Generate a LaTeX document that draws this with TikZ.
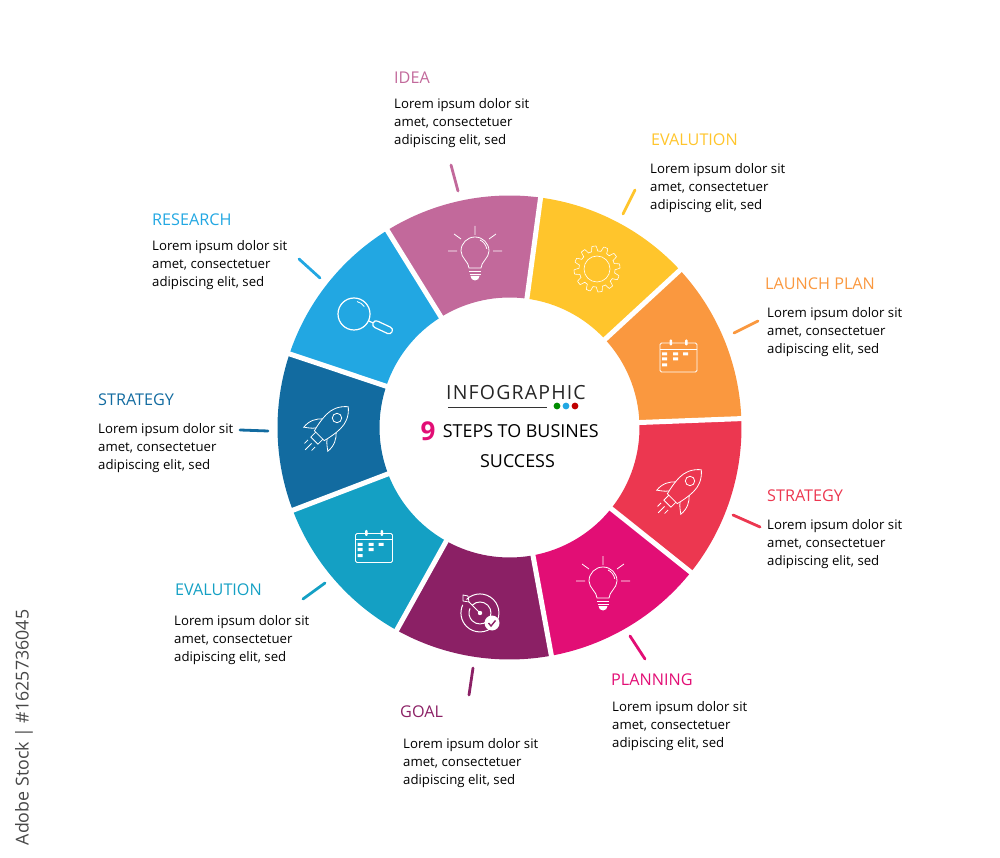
\documentclass[tikz,border=0pt]{standalone}
\usepackage{fontspec}
\setmainfont{Open Sans}
\usetikzlibrary{positioning}

\definecolor{ideacol}{HTML}{C2699B}
\definecolor{evalcol}{HTML}{FFC52C}
\definecolor{launchcol}{HTML}{FA983F}
\definecolor{stratcol}{HTML}{EC3750}
\definecolor{plancol}{HTML}{E20E75}
\definecolor{goalcol}{HTML}{8B2065}
\definecolor{evaltwocol}{HTML}{14A0C4}
\definecolor{strattwocol}{HTML}{126BA0}
\definecolor{researchcol}{HTML}{22A7E2}

\newcommand{\stepblurb}{Lorem ipsum dolor sit\\amet, consectetuer\\adipiscing elit, sed}

\tikzset{
  pics/bulb/.style={code={
    \draw[icon] (-6,-16) .. controls (-6,-10) and (-14,-6) .. (-14,1)
      arc[start angle=180,end angle=0,radius=14]
      .. controls (14,-6) and (6,-10) .. (6,-16) -- cycle;
    \draw[icon] (5,12) arc[start angle=65,end angle=10,radius=12];
    \draw[icon] (-6,-19) -- (6,-19) (-5.5,-22) -- (5.5,-22);
    \fill[white] (-4.5,-24) -- (4.5,-24) arc[start angle=0,end angle=-180,radius=4.5] -- cycle;
    \draw[icon] (0,17) -- (0,26) (18,1) -- (27,1) (-18,1) -- (-27,1)
      (14,13) -- (21,18) (-14,13) -- (-21,18);
  }},
  pics/lens/.style={code={
    \draw[icon,line width=1.2pt] (0,0) circle (16);
    \draw[icon] (3,12.5) arc[start angle=75,end angle=35,radius=13];
    \draw[icon,line width=1.2pt,rounded corners=3.4,rotate=-25] (21,-3.5) rectangle (42,3.5);
    \draw[icon,line width=1.2pt] (14.5,-6.8) -- (19,-8.9);
  }},
  pics/gear/.style={code={
    \draw[icon,line width=0.6pt] plot[domain=0:360,samples=289] (\x:{20.5+2.5*min(1,max(-1,2.2*sin(12*\x)))}) -- cycle;
    \draw[icon,line width=0.6pt] (0,0) circle (13);
  }},
  pics/calendar/.style={code={
    \draw[icon,rounded corners=1.5] (-18.5,-14.5) rectangle (18.5,14.5);
    \draw[icon] (-18.5,8.5) -- (18.5,8.5);
    \fill[white,rounded corners=1] (-9,12) rectangle (-6.5,18) (6.5,12) rectangle (9,18);
    \fill[white] (-16.5,2) rectangle (-11.5,5) (-5.5,2) rectangle (-0.5,5) (4.5,2) rectangle (9.5,5)
      (-16.5,-3) rectangle (-11.5,0) (-5.5,-3) rectangle (-0.5,0) (-16.5,-9) rectangle (-11.5,-6);
  }},
  pics/rocket/.style={code={
    \begin{scope}[rotate=-45]
      \draw[icon] (0,16) .. controls (8,9) and (10,2) .. (10,-5)
        .. controls (10,-12) and (8.5,-19) .. (7,-25) -- (-7,-25)
        .. controls (-8.5,-19) and (-10,-12) .. (-10,-5)
        .. controls (-10,2) and (-8,9) .. (0,16) -- cycle;
      \draw[icon] (0,0) circle (4.7);
      \draw[icon] (-5,-25) -- (-5,-32) -- (5,-32) -- (5,-25);
      \draw[icon] (-9.8,-11) .. controls (-14,-15) and (-18,-21) .. (-17,-30)
        .. controls (-13,-27) and (-10,-25) .. (-8,-22);
      \draw[icon] (9.8,-11) .. controls (14,-15) and (18,-21) .. (17,-30)
        .. controls (13,-27) and (10,-25) .. (8,-22);
      \draw[icon] (-5,-36) -- (-5,-41) (0,-36) -- (0,-45) (5,-36) -- (5,-41);
    \end{scope}
  }},
  pics/target/.style={code={
    \draw[icon,line width=1pt] (-13.5,13.5) arc[start angle=135,end angle=-205,radius=19];
    \draw[icon,line width=1pt] (-7.8,7.8) arc[start angle=135,end angle=-205,radius=11];
    \fill[white] (0,0) circle (2.2);
    \draw[icon] (0,0) -- (-11,11);
    \draw[icon,line join=round] (-11,11) -- (-12,17) -- (-17,18) -- (-17,12) -- cycle;
    \fill[white] (12,-10) circle (7.5);
    \draw[goalcol,line width=1.4pt] (8.5,-10) -- (11,-13) -- (15.5,-7.5);
  }}
}

\begin{document}
\begin{tikzpicture}[x=1pt, y=1pt, icon/.style={draw=white, line width=0.8pt}]
  \tikzstyle{steptitle}=[inner sep=0pt, anchor=west, font=\fontsize{16.2}{18}\selectfont]
  \tikzstyle{stepbody}=[inner sep=0pt, align=left, text=black, font=\fontsize{13.2}{18}\selectfont]
  \tikzstyle{steptick}=[line width=2.8pt, line cap=round]

  \useasboundingbox (0,0) rectangle (1000,857);

  % ring
  \begin{scope}[shift={(509.5,429.5)}]
    \foreach \ang/\nxt/\col in {2.2/42.7/launchcol, 42.7/82.3/evalcol, 82.3/121.8/ideacol, 121.8/161.5/researchcol,
                                161.5/200.9/strattwocol, 200.9/240.9/evaltwocol, 240.9/280.4/goalcol,
                                280.4/321.4/plancol, 321.4/362.2/stratcol}
      \fill[\col] (\ang:232) arc[start angle=\ang, end angle=\nxt, radius=232]
        -- (\nxt:130) arc[start angle=\nxt, end angle=\ang, radius=130] -- cycle;
    \foreach \ang in {2.2,42.7,82.3,121.8,161.5,200.9,240.9,280.4,321.4}
      \draw[white, line width=5pt] (\ang:120) -- (\ang:240);
  \end{scope}

  % icons
  \pic at (475,605) {bulb};
  \pic at (597,588) {gear};
  \pic at (678.5,499.5) {calendar};
  \pic at (690,376) {rocket};
  \pic at (603,275) {bulb};
  \pic at (480,244) {target};
  \pic at (374,309) {calendar};
  \pic at (337,439) {rocket};
  \pic at (354,543) {lens};

  % centre
  \node[inner sep=0pt, font=\fontsize{19.5}{20}\selectfont, text=black!85] (brand) at (516,464) {\addfontfeature{LetterSpace=6}INFOGRAPHIC};
  \draw[black!80, line width=0.9pt] (448,450) -- (547,450);
  \fill[green!55!black] (557,451) circle (3.4);
  \fill[researchcol] (566,451) circle (3.4);
  \fill[red!75!black] (575,451) circle (3.4);
  \node[inner sep=0pt, font=\bfseries\fontsize{26}{28}\selectfont, text=plancol] (nine) at (428,426) {9};
  \node[inner sep=0pt, font=\fontsize{17.9}{20}\selectfont, text=black] (headline) [right=7pt of nine] {STEPS TO BUSINES};
  \node[inner sep=0pt, font=\fontsize{17.9}{20}\selectfont, text=black] (success) at (517.5,396) {SUCCESS};

  % steps
  \node[steptitle, text=ideacol] (idea) at (394,779) {IDEA};
  \node[stepbody] (ideatext) [below right=14pt and 0pt of idea.south west] {\stepblurb};
  \node[steptitle, text=evalcol] (evalone) at (651,717) {EVALUTION};
  \node[stepbody] (evalonetext) [below right=17pt and -1pt of evalone.south west] {\stepblurb};
  \node[steptitle, text=launchcol] (launch) at (765,573) {LAUNCH PLAN};
  \node[stepbody] (launchtext) [below right=17pt and 2pt of launch.south west] {\stepblurb};
  \node[steptitle, text=stratcol] (stratone) at (767,361) {STRATEGY};
  \node[stepbody] (stratonetext) [below right=17pt and 0pt of stratone.south west] {\stepblurb};
  \node[steptitle, text=plancol] (plan) at (611,177) {PLANNING};
  \node[stepbody] (plantext) [below right=15pt and 1pt of plan.south west] {\stepblurb};
  \node[steptitle, text=goalcol] (goal) at (400,145) {GOAL};
  \node[stepbody] (goaltext) [below right=20pt and 3pt of goal.south west] {\stepblurb};
  \node[steptitle, text=evaltwocol] (evaltwo) at (175,267) {EVALUTION};
  \node[stepbody] (evaltwotext) [below right=19pt and -1pt of evaltwo.south west] {\stepblurb};
  \node[steptitle, text=strattwocol] (strattwo) at (98,457) {STRATEGY};
  \node[stepbody] (strattwotext) [below right=17pt and 0pt of strattwo.south west] {\stepblurb};
  \node[steptitle, text=researchcol] (research) at (152,637) {RESEARCH};
  \node[stepbody] (researchtext) [below right=14pt and 0pt of research.south west] {\stepblurb};

  % ticks
  \draw[steptick, ideacol] (451,692) -- (458,666);
  \draw[steptick, evalcol] (635,667) -- (623,643);
  \draw[steptick, launchcol] (758,536) -- (734,524);
  \draw[steptick, stratcol] (733,342) -- (760,330);
  \draw[steptick, plancol] (630,221) -- (645,198);
  \draw[steptick, goalcol] (473,189) -- (469,162);
  \draw[steptick, evaltwocol] (325,274) -- (303,258);
  \draw[steptick, strattwocol] (240,427) -- (268,426);
  \draw[steptick, researchcol] (299,598) -- (320,579);

  \node[inner sep=0pt, rotate=90, text=black!72, font=\fontsize{17.8}{20}\selectfont] (stamp) at (24,129.5) {Adobe Stock | \#1625736045};
\end{tikzpicture}
\end{document}
